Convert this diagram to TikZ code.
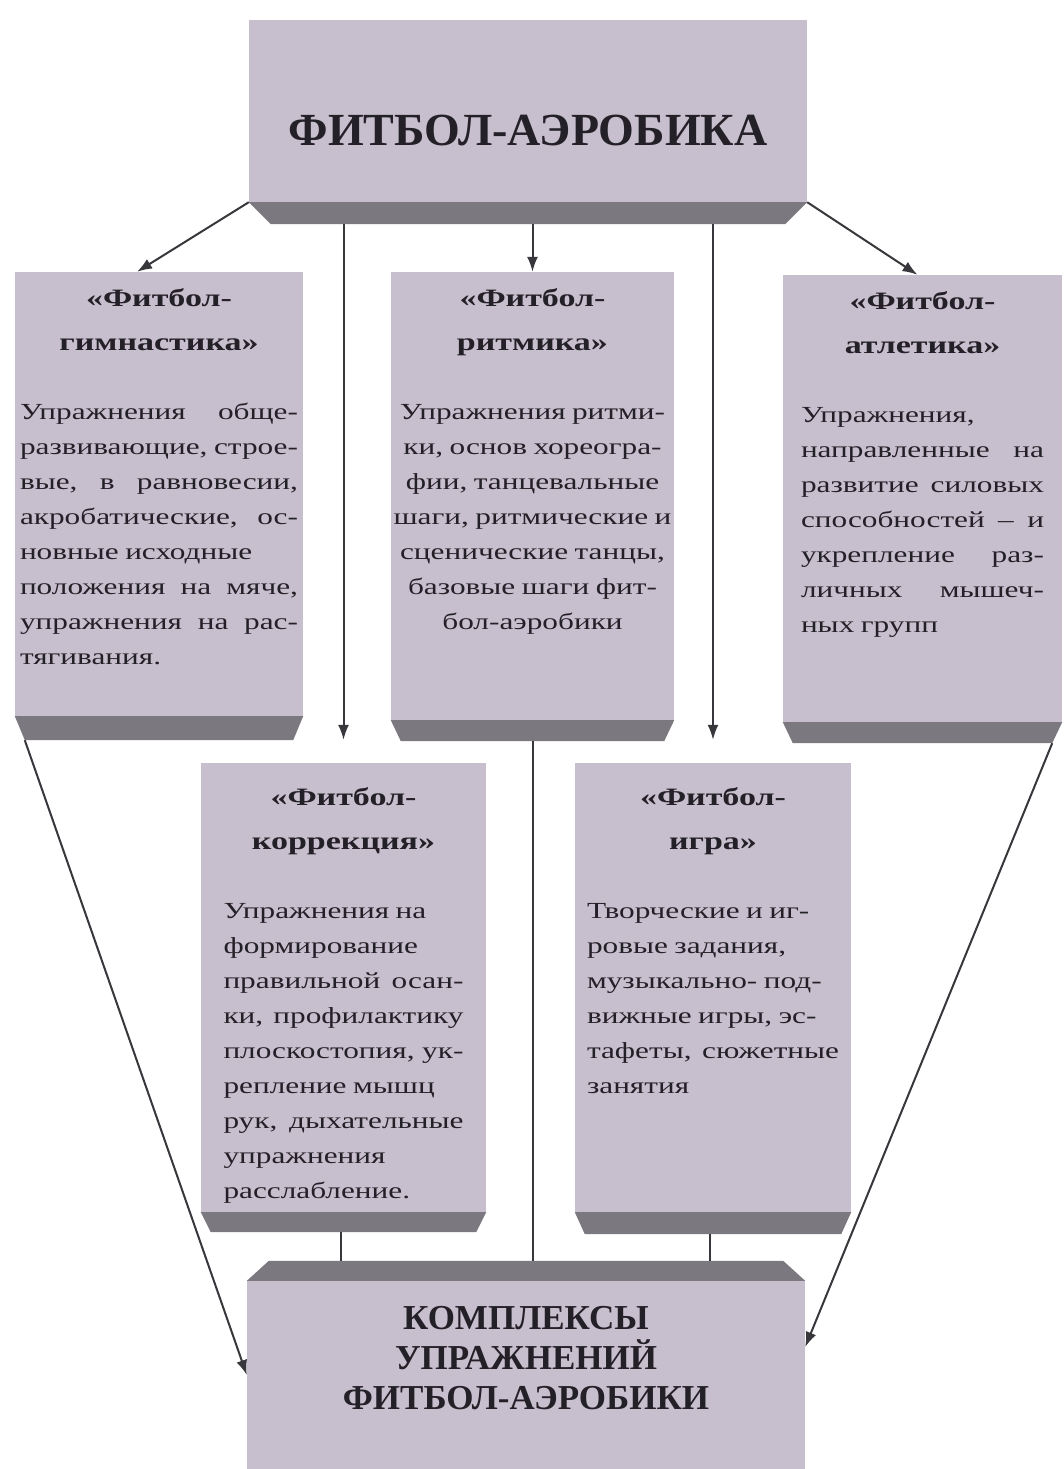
\documentclass[tikz,border=0pt]{standalone}
\usepackage{fontspec}
\setmainfont{Liberation Serif}
\newfontfamily\boxfont{Liberation Serif}[FakeStretch=1.36]
\usepackage{xcolor}
\usepackage{tikz}
\usetikzlibrary{positioning, arrows.meta}
\definecolor{SlabLav}{RGB}{199,191,205}
\definecolor{RimGray}{RGB}{124,120,128}
\definecolor{InkGray}{RGB}{36,32,40}
\definecolor{LineGray}{RGB}{55,55,60}
\setlength{\parindent}{0pt}
\newcommand{\boxhead}{\boxfont\bfseries\fontsize{25}{44}\selectfont}
\newcommand{\boxbody}{\boxfont\fontsize{23}{35}\selectfont\spaceskip=6.5pt plus 2pt minus 1pt\relax}
\newcommand{\jline}[1]{\leavevmode\hbox to\hsize{#1}}

\begin{document}
\begin{tikzpicture}[x=1pt, y=-1pt,
    slab/.style={fill=SlabLav, inner sep=0pt},
    rim/.style={fill=RimGray},
    txt/.style={inner sep=0pt, text=InkGray},
    arr/.style={-{Latex[length=15pt,width=11pt]}, line width=2pt, draw=LineGray},
    link/.style={line width=2pt, draw=LineGray}]
  \useasboundingbox (0,0) rectangle (1064,1469);

  % top slab
  \node[slab, minimum width=558pt, minimum height=182pt] (top) at (528,111) {};
  \fill[rim] (top.south west) -- (top.south east) -- ([shift={(-22,22)}]top.south east) -- ([shift={(22,22)}]top.south west) -- cycle;
  \coordinate (topb) at ([shift={(0,22)}]top.south);
  \node[txt, font=\bfseries\fontsize{46}{50}\selectfont] (toptxt) at (528,130) {ФИТБОЛ-АЭРОБИКА};

  % first row
  \node[slab, minimum width=288pt, minimum height=444pt] (gym) at (159,494) {};
  \fill[rim] (gym.south west) -- (gym.south east) -- ([shift={(-10,24)}]gym.south east) -- ([shift={(10,24)}]gym.south west) -- cycle;
  \node[txt, text width=278pt, below=17pt of gym.north] (gymtxt) {%
    {\centering\boxhead «Фитбол-\\гимнастика»\par}\vspace{34pt}
    {\raggedright\boxbody
    \jline{Упражнения\hfill обще-}\\
    \jline{развивающие,\hfill строе-}\\
    \jline{вые,\hfill в\hfill равновесии,}\\
    \jline{акробатические,\hfill ос-}\\
    новные исходные\\
    \jline{положения\hfill на\hfill мяче,}\\
    \jline{упражнения\hfill на\hfill рас-}\\
    тягивания.\par}};

  \node[slab, minimum width=283pt, minimum height=448pt] (rit) at (532.5,496) {};
  \fill[rim] (rit.south west) -- (rit.south east) -- ([shift={(-10,21)}]rit.south east) -- ([shift={(10,21)}]rit.south west) -- cycle;
  \coordinate (ritb) at ([shift={(0,21)}]rit.south);
  \node[txt, text width=279pt, below=17pt of rit.north] (rittxt) {%
    {\centering\boxhead «Фитбол-\\ритмика»\par}\vspace{34pt}
    {\centering\boxbody
    Упражнения ритми-\\
    ки, основ хореогра-\\
    фии, танцевальные\\
    \mbox{шаги, ритмические и}\\
    сценические танцы,\\
    базовые шаги фит-\\
    бол-аэробики\par}};

  \node[slab, minimum width=279pt, minimum height=447pt] (atl) at (922.5,498.5) {};
  \fill[rim] (atl.south west) -- (atl.south east) -- ([shift={(-10,21)}]atl.south east) -- ([shift={(10,21)}]atl.south west) -- cycle;
  \node[txt, text width=243pt, below=17pt of atl.north] (atltxt) {%
    {\centering\boxhead «Фитбол-\\атлетика»\par}\vspace{34pt}
    {\raggedright\boxbody
    Упражнения,\\
    \jline{направленные\hfill на}\\
    \jline{развитие\hfill силовых}\\
    \jline{способностей\hfill –\hfill и}\\
    \jline{укрепление\hfill раз-}\\
    \jline{личных\hfill мышеч-}\\
    ных групп\par}};

  % second row
  \node[slab, minimum width=285pt, minimum height=449pt] (kor) at (343.5,987.5) {};
  \fill[rim] (kor.south west) -- (kor.south east) -- ([shift={(-10,20)}]kor.south east) -- ([shift={(10,20)}]kor.south west) -- cycle;
  \coordinate (korb) at ([shift={(-3,20)}]kor.south);
  \node[txt, text width=240pt, below=25pt of kor.north] (kortxt) {%
    {\centering\boxhead «Фитбол-\\коррекция»\par}\vspace{34pt}
    {\raggedright\boxbody
    Упражнения на\\
    формирование\\
    \jline{правильной\hfill осан-}\\
    \jline{ки,\hfill профилактику}\\
    \jline{плоскостопия,\hfill ук-}\\
    репление мышц\\
    \jline{рук,\hfill дыхательные}\\
    упражнения\\
    расслабление.\par}};

  \node[slab, minimum width=276pt, minimum height=449pt] (igr) at (713,987.5) {};
  \fill[rim] (igr.south west) -- (igr.south east) -- ([shift={(-10,22)}]igr.south east) -- ([shift={(10,22)}]igr.south west) -- cycle;
  \coordinate (igrb) at ([shift={(-3,22)}]igr.south);
  \node[txt, text width=252pt, below=25pt of igr.north] (igrtxt) {%
    {\centering\boxhead «Фитбол-\\игра»\par}\vspace{34pt}
    {\raggedright\boxbody
    Творческие и иг-\\
    ровые задания,\\
    музыкально- под-\\
    вижные игры, эс-\\
    \jline{тафеты,\hfill сюжетные}\\
    занятия\par}};

  % bottom slab
  \node[slab, minimum width=558pt, minimum height=188pt] (res) at (526,1375) {};
  \fill[rim] (res.north west) -- (res.north east) -- ([shift={(-22,-20)}]res.north east) -- ([shift={(22,-20)}]res.north west) -- cycle;
  \coordinate (resb) at ([shift={(0,-20)}]res.north);
  \node[txt, align=center, font=\bfseries\fontsize{35}{40}\selectfont] (restxt) at (526,1358) {КОМПЛЕКСЫ\\УПРАЖНЕНИЙ\\ФИТБОЛ-АЭРОБИКИ};

  % connectors
  \draw[arr] (top.south west) -- ([shift={(-22,0)}]gym.north);
  \draw[arr] (top.south east) -- ([shift={(-5,0)}]atl.north);
  \draw[arr] (topb -| rit.north) -- (rit.north);
  \draw[arr, shorten >=23pt] (topb -| kor.north) -- (kor.north);
  \draw[arr, shorten >=23pt] (topb -| igr.north) -- (igr.north);
  \draw[arr] ([shift={(10,24)}]gym.south west) -- (res.west);
  \draw[arr] ([shift={(-10,21)}]atl.south east) -- ([shift={(0,-28)}]res.east);
  \draw[link] (ritb) -- (ritb |- resb);
  \draw[link] (korb) -- (korb |- resb);
  \draw[link] (igrb) -- (igrb |- resb);
\end{tikzpicture}
\end{document}
